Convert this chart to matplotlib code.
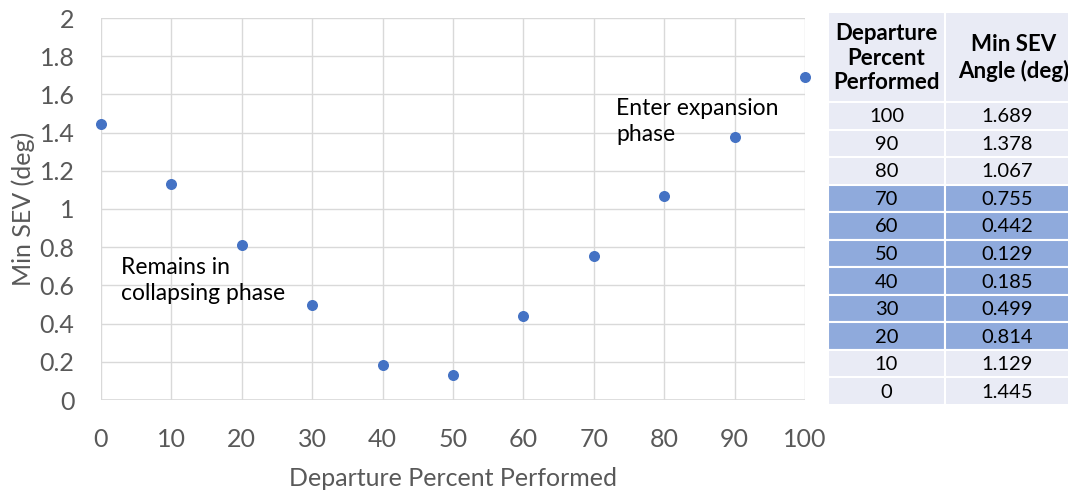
import matplotlib.pyplot as plt
from matplotlib.patches import Rectangle

plt.rcParams['font.family'] = ['Lato', 'DejaVu Sans']

percent = [0, 10, 20, 30, 40, 50, 60, 70, 80, 90, 100]
min_sev = [1.445, 1.129, 0.814, 0.499, 0.185, 0.129, 0.442, 0.755, 1.067, 1.378, 1.689]
highlighted = [20, 30, 40, 50, 60, 70]

W, H = 1068, 491
fig = plt.figure(figsize=(W / 100, H / 100), dpi=100)

# scatter chart
ax = fig.add_axes([101 / W, 1 - 400 / H, 704 / W, 382 / H])
ax.scatter(percent, min_sev, s=48, color='#4472C4', zorder=3, clip_on=False)
ax.set_xlim(0, 100)
ax.set_ylim(0, 2)
ax.set_xticks(range(0, 101, 10))
ax.set_yticks([0, 0.2, 0.4, 0.6, 0.8, 1, 1.2, 1.4, 1.6, 1.8, 2])
ax.set_yticklabels(['0', '0.2', '0.4', '0.6', '0.8', '1', '1.2', '1.4', '1.6', '1.8', '2'])
ax.grid(True, color='#D9D9D9', linewidth=1)
ax.set_axisbelow(True)
for s in ax.spines.values():
    s.set_visible(False)
ax.axhline(0, color='#D9D9D9', linewidth=1.2, zorder=1)
ax.tick_params(length=0, labelsize=18, labelcolor='#595959')
ax.tick_params(axis='x', pad=20)
ax.tick_params(axis='y', pad=19)
ax.set_xlabel('Departure Percent Performed', fontsize=18, color='#595959', labelpad=12)
ax.set_ylabel('Min SEV (deg)', fontsize=18, color='#595959', labelpad=3)

ax.text(73.2, 1.58, 'Enter expansion\nphase', fontsize=16.5, va='top', ha='left', linespacing=1.3)
ax.text(2.8, 0.75, 'Remains in\ncollapsing phase', fontsize=16.5, va='top', ha='left', linespacing=1.3)

# data table on the right
tab = fig.add_axes([0, 0, 1, 1])
tab.set_xlim(0, W)
tab.set_ylim(H, 0)
tab.axis('off')

col_x = [828, 945, 1100]
header_top, header_bot = 12, 102
row_h = (405 - header_bot) / len(percent)

def cell(x0, x1, y0, y1, color):
    tab.add_patch(Rectangle((x0, y0), x1 - x0, y1 - y0, facecolor=color,
                            edgecolor='white', linewidth=1.5))

cell(col_x[0], col_x[1], header_top, header_bot, '#E9EBF5')
cell(col_x[1], col_x[2], header_top, header_bot, '#E9EBF5')
tab.text((col_x[0] + col_x[1]) / 2, (header_top + header_bot) / 2 + 1,
         'Departure\nPercent\nPerformed', ha='center', va='center',
         fontsize=16, fontweight='bold', linespacing=1.22)
tab.text(1014, (header_top + header_bot) / 2 + 1, 'Min SEV\nAngle (deg)',
         ha='center', va='center', fontsize=16, fontweight='bold', linespacing=1.22)

for i, (p, v) in enumerate(zip(percent[::-1], min_sev[::-1])):
    y0 = header_bot + i * row_h
    color = '#8FAADC' if p in highlighted else '#E9EBF5'
    cell(col_x[0], col_x[1], y0, y0 + row_h, color)
    cell(col_x[1], col_x[2], y0, y0 + row_h, color)
    tab.text((col_x[0] + col_x[1]) / 2, y0 + row_h / 2 + 1, str(p), ha='center', va='center', fontsize=14.5)
    tab.text(1007, y0 + row_h / 2 + 1, f'{v:.3f}', ha='center', va='center', fontsize=14.5)

fig.savefig('out.png', dpi=100)
